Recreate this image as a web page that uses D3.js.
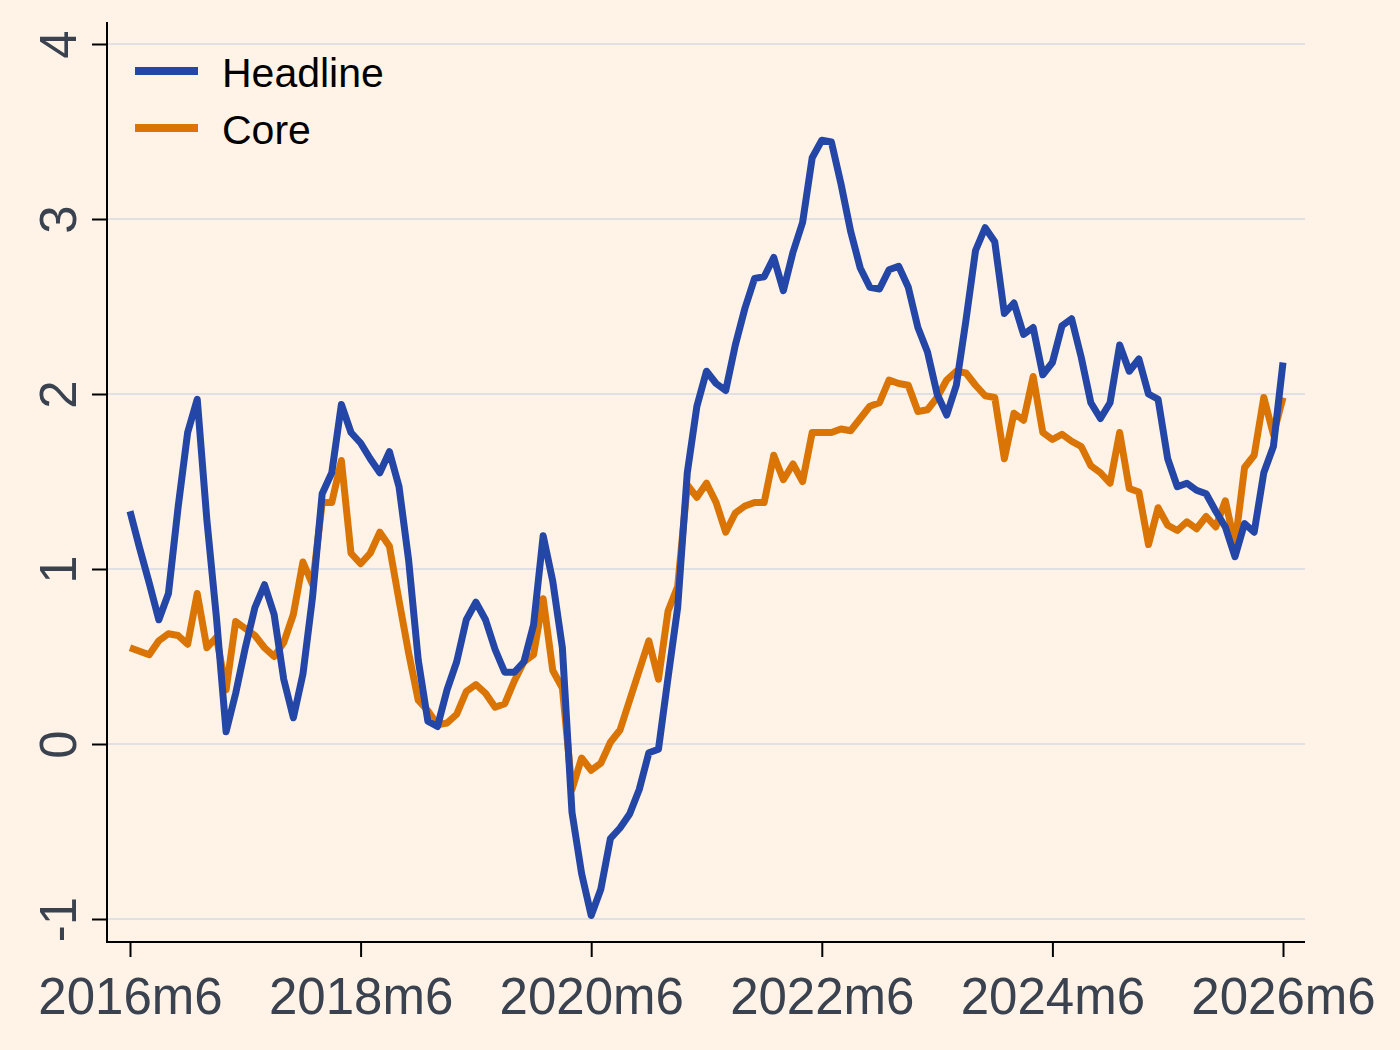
<!DOCTYPE html>
<html>
<head>
<meta charset="utf-8">
<script src="https://cdn.jsdelivr.net/npm/d3@7"></script>
<style>
  body { margin: 0; background: #fef3e6; }
  svg { display: block; font-family: "Liberation Sans", Arial, sans-serif; }
</style>
</head>
<body>
<svg width="1400" height="1050"></svg>
<script>
// monthly series, first value is 2016m6, last is 2026m6
var headline = [
  1.33, 1.12, 0.92, 0.71, 0.86, 1.35, 1.78, 1.97, 1.28, 0.72,
  0.07, 0.29, 0.55, 0.78, 0.91, 0.74, 0.37, 0.15, 0.40, 0.84,
  1.43, 1.55, 1.94, 1.78, 1.72, 1.63, 1.55, 1.67, 1.47, 1.05,
  0.48, 0.13, 0.10, 0.31, 0.47, 0.71, 0.81, 0.71, 0.54, 0.41,
  0.41, 0.47, 0.68, 1.19, 0.93, 0.55, -0.39, -0.74, -0.98, -0.83,
  -0.54, -0.48, -0.40, -0.26, -0.05, -0.03, 0.38, 0.78, 1.55, 1.93,
  2.13, 2.06, 2.02, 2.28, 2.49, 2.66, 2.67, 2.78, 2.59, 2.81,
  2.98, 3.35, 3.45, 3.44, 3.20, 2.93, 2.72, 2.61, 2.60, 2.71,
  2.73, 2.61, 2.38, 2.24, 2.00, 1.88, 2.05, 2.42, 2.82, 2.95,
  2.87, 2.46, 2.52, 2.34, 2.38, 2.11, 2.18, 2.39, 2.43, 2.21,
  1.95, 1.86, 1.95, 2.28, 2.13, 2.20, 2.00, 1.97, 1.63, 1.47,
  1.49, 1.45, 1.43, 1.33, 1.24, 1.07, 1.26, 1.21, 1.55, 1.70,
  2.18
];
var core = [
  0.55, 0.53, 0.51, 0.59, 0.63, 0.62, 0.57, 0.86, 0.55, 0.61,
  0.31, 0.70, 0.66, 0.62, 0.55, 0.50, 0.58, 0.74, 1.04, 0.91,
  1.38, 1.38, 1.62, 1.09, 1.03, 1.09, 1.21, 1.13, 0.82, 0.52,
  0.25, 0.19, 0.11, 0.12, 0.17, 0.30, 0.34, 0.29, 0.21, 0.23,
  0.36, 0.47, 0.51, 0.83, 0.42, 0.32, -0.26, -0.08, -0.15, -0.11,
  0.01, 0.08, 0.25, 0.42, 0.59, 0.37, 0.76, 0.90, 1.48, 1.41,
  1.49, 1.38, 1.21, 1.32, 1.36, 1.38, 1.38, 1.65, 1.51, 1.60,
  1.50, 1.78, 1.78, 1.78, 1.80, 1.79, 1.86, 1.93, 1.95, 2.08,
  2.06, 2.05, 1.90, 1.91, 1.98, 2.08, 2.13, 2.12, 2.05, 1.99,
  1.98, 1.63, 1.89, 1.85, 2.10, 1.78, 1.74, 1.77, 1.73, 1.70,
  1.59, 1.55, 1.49, 1.78, 1.46, 1.44, 1.14, 1.35, 1.25, 1.22,
  1.27, 1.23, 1.30, 1.24, 1.39, 1.14, 1.58, 1.65, 1.98, 1.77,
  1.98
];

// x ticks are month offsets from 2016m6
var xTickMonths = [0, 24, 48, 72, 96, 120];
var xTickLabels = ['2016m6', '2018m6', '2020m6', '2022m6', '2024m6', '2026m6'];
var yTicks = [-1, 0, 1, 2, 3, 4];

var seriesNames = ['Headline', 'Core'];
var seriesColors = ['#2446a6', '#da7505'];

var svg = d3.select('svg');

// plot frame (Stata-like: axes sit a bit outside the data range)
var frame = {l: 107, r: 1305, t: 22, b: 942};

var xScale = d3.scaleLinear()
    .domain([0, headline.length - 1])
    .range([130, 1283]);
var yScale = d3.scaleLinear()
    .domain([-1, 4])
    .range([919, 44]);

// gridlines
svg.append('g')
    .selectAll('line')
    .data(yTicks)
    .enter()
    .append('line')
    .attr('x1', frame.l)
    .attr('x2', frame.r)
    .attr('y1', d => yScale(d))
    .attr('y2', d => yScale(d))
    .attr('stroke', '#d6d9e0')
    .attr('stroke-width', 1.5);

// y axis
var yAxisG = svg.append('g')
    .attr('transform', `translate(${frame.l}, 0)`)
    .call(d3.axisLeft(yScale).tickValues(yTicks).tickSize(15).tickFormat(d3.format('d')));
yAxisG.select('.domain').remove();
yAxisG.selectAll('.tick line').attr('stroke', '#000').attr('stroke-width', 2);
yAxisG.selectAll('.tick text')
    .attr('x', 0)
    .attr('dy', 0)
    .attr('text-anchor', 'middle')
    .attr('transform', 'translate(-31, 0) rotate(-90)')
    .attr('fill', '#3a4250')
    .style('font-size', '51px')
    .style('font-family', '"Liberation Sans", Arial, sans-serif')
    .text(d => d < 0 ? '-' + Math.abs(d) : d);

// x axis
var xAxisG = svg.append('g')
    .attr('transform', `translate(0, ${frame.b})`)
    .call(d3.axisBottom(xScale)
        .tickValues(xTickMonths)
        .tickSize(15)
        .tickFormat((d, i) => xTickLabels[i]));
xAxisG.select('.domain').remove();
xAxisG.selectAll('.tick line').attr('stroke', '#000').attr('stroke-width', 2);
xAxisG.selectAll('.tick text')
    .attr('y', 72)
    .attr('dy', 0)
    .attr('fill', '#3a4250')
    .style('font-size', '51px')
    .style('font-family', '"Liberation Sans", Arial, sans-serif');

// axis lines
svg.append('line')
    .attr('x1', frame.l).attr('x2', frame.l)
    .attr('y1', frame.t).attr('y2', frame.b + 1)
    .attr('stroke', '#000').attr('stroke-width', 2);
svg.append('line')
    .attr('x1', frame.l - 1).attr('x2', frame.r)
    .attr('y1', frame.b).attr('y2', frame.b)
    .attr('stroke', '#000').attr('stroke-width', 2);

// series lines
var line = d3.line()
    .x((d, i) => xScale(i))
    .y(d => yScale(d));

svg.append('path')
    .datum(core)
    .attr('d', line)
    .attr('fill', 'none')
    .attr('stroke', seriesColors[1])
    .attr('stroke-width', 7)
    .attr('stroke-linejoin', 'round');

svg.append('path')
    .datum(headline)
    .attr('d', line)
    .attr('fill', 'none')
    .attr('stroke', seriesColors[0])
    .attr('stroke-width', 7)
    .attr('stroke-linejoin', 'round');

// legend
var legend = svg.append('g')
    .attr('transform', 'translate(135, 71)');
var legendItem = legend.selectAll('.item')
    .data(seriesNames)
    .enter()
    .append('g')
    .attr('class', 'item')
    .attr('transform', (d, i) => `translate(0, ${i * 57})`);
legendItem.append('line')
    .attr('x1', 0).attr('x2', 63)
    .attr('y1', 0).attr('y2', 0)
    .attr('stroke', (d, i) => seriesColors[i])
    .attr('stroke-width', 8);
legendItem.append('text')
    .attr('x', 87)
    .attr('y', 16)
    .attr('fill', '#000')
    .style('font-size', '41px')
    .text(d => d);
</script>
</body>
</html>
